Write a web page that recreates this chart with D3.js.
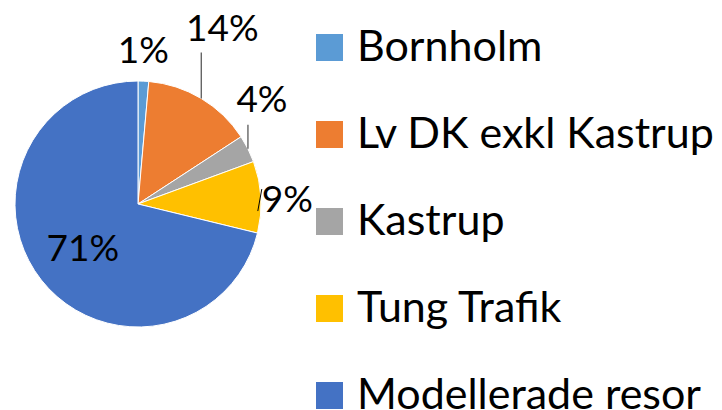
<!DOCTYPE html>
<html>
<head>
<meta charset="utf-8">
<script src="https://cdn.jsdelivr.net/npm/d3@7"></script>
<style>
  body { margin: 0; background: #fff; }
  text { font-family: Lato, "Open Sans", sans-serif; fill: #000; }
</style>
</head>
<body>
<div class="main"></div>
<script>
////Data
const categories = ['Bornholm', 'Lv DK exkl Kastrup', 'Kastrup', 'Tung Trafik', 'Modellerade resor'];
const shares = [1.4, 14.4, 3.6, 9.4, 71.2];
const labels = ['1%', '14%', '4%', '9%', '71%'];
const colors = ['#5b9bd5', '#ed7d31', '#a5a5a5', '#ffc000', '#4472c4'];

////Layout
const width = 722;
const height = 410;
const cx = 138, cy = 204, radius = 123;
// label placement relative to the slice edge point at the mid angle
const labelPlace = [
  { dx: 0, dy: -18, leader: null },
  { dx: 21, dy: -58, leader: -46 },
  { dx: 14, dy: -37, leader: -24 },
  { dx: 26, dy: 15, leader: 'slant' },
  { inside: true, r: 0.57, dy: 14 }
];

const svg = d3.select('.main').append('svg')
  .attr('width', width)
  .attr('height', height);

const pie = d3.pie().sort(null).value(d => d);
const arcs = pie(shares);
const arc = d3.arc().innerRadius(0).outerRadius(radius);

const g = svg.append('g').attr('transform', `translate(${cx},${cy})`);

g.selectAll('path')
  .data(arcs)
  .enter()
  .append('path')
  .attr('d', arc)
  .attr('fill', (d, i) => colors[i])
  .attr('stroke', '#fff')
  .attr('stroke-width', 1);

const edge = (a, r) => [r * Math.sin(a), -r * Math.cos(a)];

arcs.forEach((d, i) => {
  const p = labelPlace[i];
  const mid = (d.startAngle + d.endAngle) / 2;
  if (p.inside) {
    const [x, y] = edge(mid, radius * p.r);
    g.append('text').attr('x', x).attr('y', y + p.dy)
      .attr('text-anchor', 'middle').attr('font-size', 37).text(labels[i]);
    return;
  }
  const [ex, ey] = edge(mid, radius);
  if (p.leader === 'slant') {
    g.append('line').attr('x1', ex - 3).attr('y1', ey + 14).attr('x2', ex + 1).attr('y2', ey - 8)
      .attr('stroke', '#000').attr('stroke-width', 1);
    g.append('text').attr('x', ex + 1).attr('y', ey + p.dy)
      .attr('font-size', 37).text(labels[i]);
    return;
  }
  if (p.leader !== null) {
    g.append('line').attr('x1', ex).attr('y1', ey).attr('x2', ex).attr('y2', ey + p.leader)
      .attr('stroke', '#595959').attr('stroke-width', 1.3);
  }
  g.append('text').attr('x', ex + p.dx).attr('y', ey + p.dy)
    .attr('text-anchor', 'middle').attr('font-size', 37).text(labels[i]);
});

////Legend
const legend = svg.append('g').attr('transform', 'translate(316,34)');
const rowStep = 87;
const items = legend.selectAll('g')
  .data(categories)
  .enter()
  .append('g')
  .attr('transform', (_, i) => `translate(0,${i * rowStep})`);
items.append('rect')
  .attr('width', 27).attr('height', 27)
  .attr('fill', (_, i) => colors[i]);
items.append('text')
  .attr('x', 41).attr('y', 27)
  .attr('font-size', 43)
  .text(c => c);
</script>
</body>
</html>
